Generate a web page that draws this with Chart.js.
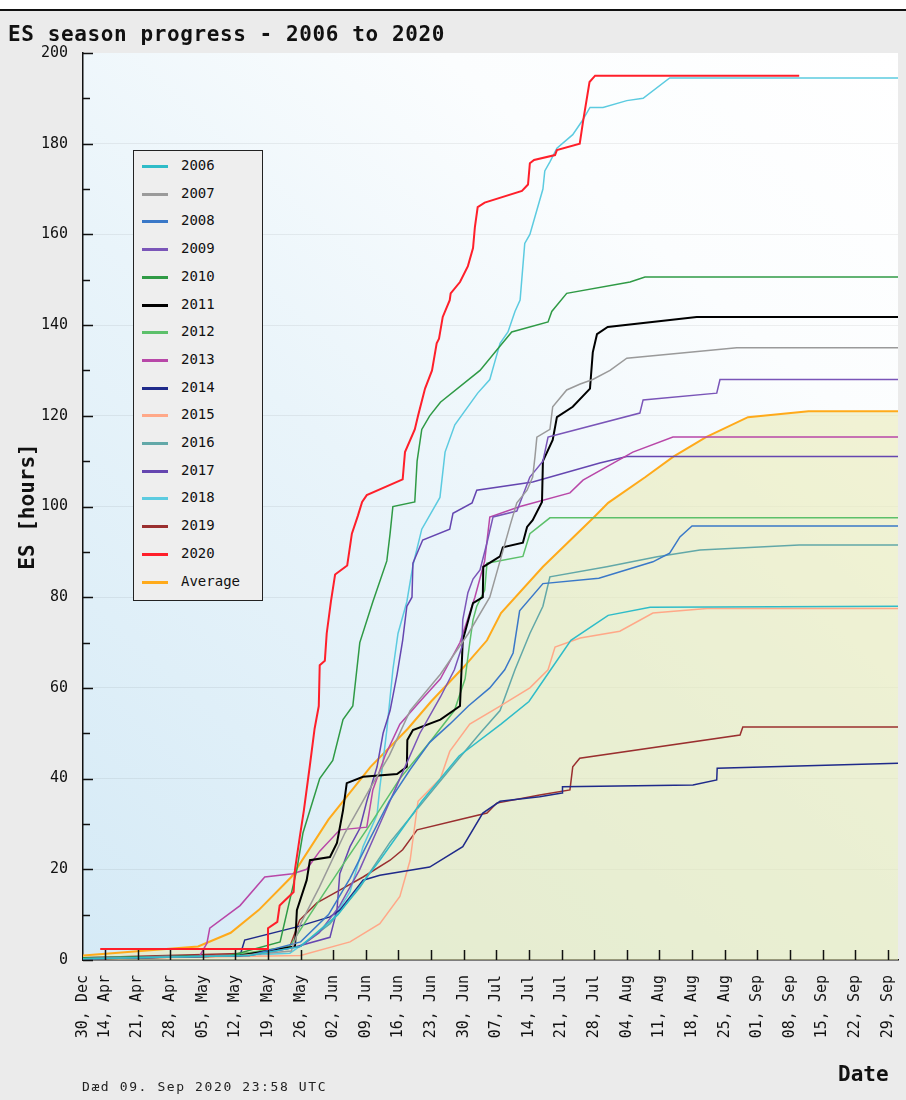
<!DOCTYPE html>
<html>
<head>
<meta charset="utf-8">
<script src="https://cdn.jsdelivr.net/npm/chart.js@4.4.0/dist/chart.umd.min.js"></script>
<style>
  html, body { margin: 0; padding: 0; background: #fff; }
  #wrap { position: relative; width: 906px; height: 1100px; background: #ebebeb; overflow: hidden; }
  #topband { position: absolute; left: 0; top: 0; width: 906px; height: 9px; background: #fff; border-bottom: 2px solid #111; }
  #chart { position: absolute; left: 0; top: 0; }
  #title { position: absolute; left: 8px; top: 24px; font: bold 21px "DejaVu Sans Mono", monospace; line-height: 1; color: #111; letter-spacing: 0.6px; }
  #xtitle { position: absolute; left: 838px; top: 1064px; font: bold 21px "DejaVu Sans Mono", monospace; line-height: 1; color: #111; }
  #stamp { position: absolute; left: 82px; top: 1080px; font: 13px "DejaVu Sans Mono", monospace; line-height: 1; color: #222; letter-spacing: 1.6px; }
  #legend { position: absolute; left: 133px; top: 150px; width: 130px; height: 451px; background: #eeeeee; border: 1.5px solid #222; box-sizing: border-box; }
  .item { position: absolute; left: 0; width: 126px; height: 20px; font: 14px "DejaVu Sans Mono", monospace; color: #111; }
  .item .sw { position: absolute; left: 8px; top: 8px; width: 26px; height: 3px; }
  .item .tx { position: absolute; left: 47px; top: 1px; line-height: 1; }
</style>
</head>
<body>
<div id="wrap">
  <div id="topband"></div>
  <canvas id="chart" width="906" height="1100"></canvas>
  <div id="title">ES season progress - 2006 to 2020</div>
  <div id="xtitle">Date</div>
  <div id="stamp">Dæd 09. Sep 2020 23:58 UTC</div>
  <div id="legend"></div>
</div>
<script>
// x = days since 14 Apr (first tick "30, Dec" sits at the axis start)
const tickDays = [-4.7, 0, 7, 14, 21, 28, 35, 42, 49, 56, 63, 70, 77, 84, 91, 98, 105, 112, 119, 126, 133, 140, 147, 154, 161, 168];
const tickLabels = ['30, Dec', '14, Apr', '21, Apr', '28, Apr', '05, May', '12, May', '19, May', '26, May',
  '02, Jun', '09, Jun', '16, Jun', '23, Jun', '30, Jun', '07, Jul', '14, Jul', '21, Jul', '28, Jul',
  '04, Aug', '11, Aug', '18, Aug', '25, Aug', '01, Sep', '08, Sep', '15, Sep', '22, Sep', '29, Sep'];
const yTicks = [0, 10, 20, 30, 40, 50, 60, 70, 80, 90, 100, 110, 120, 130, 140, 150, 160, 170, 180, 190, 200];

const seriesNames = ['2006', '2007', '2008', '2009', '2010', '2011', '2012', '2013', '2014', '2015', '2016', '2017', '2018', '2019', '2020', 'Average'];
const seriesColors = ['#2fbcc8', '#9a9a9a', '#3a78c8', '#7a55b8', '#2f9a45', '#000000', '#5cc06a', '#b847a8',
  '#1f2a8a', '#ffa888', '#62a8a8', '#6546b0', '#5ccbe0', '#9a2f2f', '#ff1f2a', '#ffaa1a'];

// [day, ES hours]
const es2006 = [[-4.7,0.3],[31,1],[42,3],[50,10],[59,22],[68,35],[76,45],[85,52],[91,57],[95,63],[100,70.5],[108,76],[117,77.8],[170.2,78]];
const es2007 = [[-4.7,0.3],[29,1],[40,2],[42,8],[46,16],[51.5,28],[57,38],[61,45],[65.5,55],[72,63],[78,72],[82.6,80],[84.8,88],[87,96],[88.4,100.8],[90.6,103.6],[91.8,106.5],[92.3,111],[92.7,115.3],[95.5,117],[96.1,122],[99.1,125.7],[102,127],[104.7,128],[108.4,130],[112,132.7],[135.6,135],[170.2,135]];
const es2008 = [[-4.7,0.3],[31,1],[42,4],[48,10],[52.6,18],[57,27],[61,35],[65.5,42],[69.7,48],[74,52],[78,56],[82.6,60],[85.8,64],[87.6,67.7],[89,77],[94,83],[106,84.2],[117.6,87.8],[121.2,89.7],[123.4,93.3],[126,95.7],[170.2,95.7]];
const es2009 = [[-4.7,0.3],[31,1],[42,3],[46,6],[50.4,12],[54.7,20],[59,30],[63.3,40],[67.6,50],[72,58],[75,64],[76.6,69],[76.8,75],[77.9,81],[79,84],[80.5,86],[82,92],[83.3,97.7],[88.4,99],[91.2,106.5],[94,110],[95.1,115.3],[97.6,116],[114.8,120.6],[115.5,123.5],[131.3,125],[132,128],[170.2,128]];
const es2010 = [[-4.7,0.5],[27,1],[37.6,4],[41.2,20],[42.5,28],[44.6,35],[46.1,40],[48.9,44],[51.1,53],[53.2,56],[54.7,70],[57.5,79],[60.5,88],[61.2,94],[61.8,100],[66.5,101],[67,110],[68,117],[69.7,120],[72,123],[80.5,130],[84.1,134.5],[87.3,138.5],[95.1,140.7],[95.9,143],[99.1,147],[112.7,149.5],[115.9,150.6],[170.2,150.6]];
const es2011 = [[-4.7,0.3],[29,1],[40.8,3],[41.2,11],[43.3,17.6],[44,22],[48.3,22.7],[49.8,25.8],[51.1,33],[51.9,39],[55.4,40.4],[62.7,41],[64.8,42.6],[64.9,48.5],[66.1,50.7],[72,53],[76.2,56],[76.8,70.5],[79,78.7],[81.1,80],[81.2,86.7],[84.8,89],[85.4,91],[89.7,92],[90.6,95.5],[91.8,97],[93.8,101],[94,110],[96.1,114.7],[97,119.7],[100.4,122],[104.1,126],[104.7,134],[105.6,138],[107.9,139.6],[127,141.8],[170.2,141.8]];
const es2012 = [[-4.7,0.3],[27,1],[39.7,3],[44,10],[50.4,20],[57,30],[63.3,40],[69.7,48],[75,55],[77.3,62],[78.3,70],[79,75],[79.8,78],[81.5,81.5],[82,87.5],[89.7,89],[91.2,94],[95.5,97.5],[170.2,97.5]];
const es2013 = [[-4.7,0.3],[20.4,1],[21.9,3.7],[22.5,7],[29,12],[34.3,18.3],[40.3,19],[43.3,20],[46.1,24],[50.4,28.7],[56.2,29.3],[57.5,37.5],[60.1,45],[63.3,52],[67.6,57],[72,62],[76.2,70],[79.4,80],[81.5,88],[82.6,97.7],[89.1,100],[99.8,103],[102.6,105.8],[113.3,112],[121.9,115.3],[170.2,115.3]];
const es2014 = [[-4.7,0.3],[29,1],[30,4.4],[41.2,7.3],[48.3,9.5],[50.4,11],[55.4,17.6],[59,18.7],[69.7,20.5],[76.8,25],[81.1,32.4],[84.8,35],[93.3,36],[98.1,36.8],[98.2,38.2],[126.2,38.6],[131.3,39.7],[131.4,42.3],[170.2,43.4]];
const es2015 = [[-4.7,0.2],[42,1],[52.6,4],[59,8],[63.3,14],[65.5,22],[67.2,35],[72,40],[74,46],[78.3,52],[84.8,56],[91.2,60],[95.1,64],[96.6,69],[102,71],[110.5,72.5],[117.6,76.5],[129.2,77.5],[170.2,77.5]];
const es2016 = [[-4.7,0.3],[31,1],[42,3],[48.3,8],[54.7,16],[61.2,26],[67.6,34],[74,42],[80.5,50],[84.8,55],[88,64],[91.2,72],[94,78],[95.5,84.5],[107.7,86.7],[118.5,88.9],[127.7,90.4],[149,91.5],[170.2,91.5]];
const es2017 = [[-4.7,0.3],[31,1],[41.2,3],[48.3,5],[49.8,11],[50.4,19],[52.6,25],[54.7,29],[56.2,35],[58.4,42.6],[59.7,50],[61.2,55],[62.7,63],[63.9,70.5],[64.8,78],[65.9,80],[66.1,87.5],[68.2,92.6],[74,95],[74.7,98.5],[78.8,100.8],[79.8,103.6],[91.8,105.4],[106.2,109.6],[112,111],[170.2,111]];
const es2018 = [[-4.7,0.5],[29,1],[39.7,1.5],[41.8,3],[48.3,8],[52.6,15],[55.4,25],[58.4,32],[59,38],[60.5,50.7],[61.8,64],[62.9,72],[64.8,79],[66.1,87],[68,95],[71.9,102],[73,112],[75.1,118],[80,125],[82.6,128],[83.7,132],[84.8,136],[86.5,138.5],[88,143],[89.1,145.5],[90.1,158],[91.2,160],[94,170],[94.4,174],[95.5,176],[97,179],[100.4,182],[102.4,185],[104.1,188],[106.9,188],[112,189.5],[115.5,190],[121.2,194.5],[170.2,194.5]];
const es2019 = [[-4.7,0.5],[31,1.5],[39.7,3],[41.8,8.8],[45.5,12.6],[50.4,15.4],[55.4,18.3],[61.2,22],[63.9,24.3],[67,28.7],[76.2,31],[82,32.4],[84.1,34.6],[93.3,36.4],[99.8,37.5],[100.4,42.6],[101.9,44.5],[136.3,49.6],[136.9,51.4],[170.2,51.4]];
const es2020 = [[-1,2.4],[34.8,2.4],[35,7],[37,8.4],[37.5,12],[40.5,15],[40.8,20],[41.8,27],[42.7,33],[44,43],[45,51],[45.9,56],[46.1,65],[47.2,66],[47.6,72],[48.5,79],[49.4,85],[52,87],[53,94],[54.3,98],[55.2,101],[56.2,102.5],[63.9,106],[64.4,112],[66.5,117],[67.2,120],[68.7,126],[70.2,130],[71.2,136],[71.7,137],[72.5,141.8],[74,145.5],[74.2,147],[76.2,149.5],[77.9,153],[79,157],[79.4,161.6],[80,166],[81.5,167],[89.5,169.6],[90.8,171],[91.2,175.7],[92.1,176.4],[96.6,177.5],[97,178.6],[101.9,180],[102.6,184.8],[104,193.6],[105.2,195],[149,195]];
const esAverage = [[-4.7,1],[20,3],[27,6],[33,11],[40,18.3],[48,31],[57,42.6],[65,51],[70,57],[77,64.6],[82,70.5],[85,76.5],[94,86.7],[105,97.7],[108,100.8],[116,106.5],[122,111],[129,115.3],[138,119.7],[151,121],[170.2,121]];

const seriesData = [es2006, es2007, es2008, es2009, es2010, es2011, es2012, es2013, es2014, es2015, es2016, es2017, es2018, es2019, es2020, esAverage];

const datasets = seriesNames.map((name, i) => ({
  label: name,
  data: seriesData[i].map(p => ({ x: p[0], y: p[1] })),
  borderColor: seriesColors[i],
  backgroundColor: name === 'Average' ? 'rgba(234,236,186,0.62)' : seriesColors[i],
  fill: name === 'Average' ? 'origin' : false,
  borderWidth: (name === '2020' || name === '2011' || name === 'Average') ? 2 : 1.5,
  pointRadius: 0,
  tension: 0,
  order: name === '2020' ? -1 : 0
}));

// legend box inside the plot
const legendEl = document.getElementById('legend');
seriesNames.forEach((name, i) => {
  const row = document.createElement('div');
  row.className = 'item';
  row.style.top = (6 + i * 27.7) + 'px';
  row.innerHTML = '<span class="sw" style="background:' + seriesColors[i] + '"></span><span class="tx">' + name + '</span>';
  legendEl.appendChild(row);
});

const plotBackground = {
  id: 'plotBackground',
  beforeDraw(chart) {
    const { ctx, chartArea: a } = chart;
    const g = ctx.createLinearGradient(a.left, a.bottom, a.right, a.top);
    g.addColorStop(0, '#d5eaf6');
    g.addColorStop(0.45, '#e9f4fa');
    g.addColorStop(0.75, '#fbfdfe');
    g.addColorStop(1, '#ffffff');
    ctx.save();
    ctx.fillStyle = g;
    ctx.fillRect(a.left, a.top, a.right - a.left, a.bottom - a.top);
    ctx.restore();
  }
};

// tick marks pointing into the plot
const innerTicks = {
  id: 'innerTicks',
  afterDraw(chart) {
    const { ctx, chartArea: a, scales } = chart;
    ctx.save();
    ctx.strokeStyle = '#111';
    ctx.lineWidth = 1.5;
    ctx.beginPath();
    yTicks.forEach(v => {
      const y = Math.round(scales.y.getPixelForValue(v)) + 0.5;
      ctx.moveTo(a.left, y);
      ctx.lineTo(a.left + (v % 20 === 0 ? 10 : 7), y);
    });
    tickDays.slice(1).forEach(d => {
      const x = Math.round(scales.x.getPixelForValue(d)) + 0.5;
      ctx.moveTo(x, a.bottom);
      ctx.lineTo(x, a.bottom - 10);
    });
    ctx.stroke();
    ctx.restore();
  }
};

new Chart(document.getElementById('chart'), {
  type: 'line',
  data: { datasets },
  options: {
    responsive: false,
    animation: false,
    layout: { padding: { left: 0, right: 0, top: 53, bottom: 0 } },
    plugins: {
      legend: { display: false },
      tooltip: { enabled: false },
      filler: { drawTime: 'beforeDatasetsDraw' }
    },
    scales: {
      x: {
        type: 'linear',
        min: -4.7,
        max: 170.2,
        afterBuildTicks: s => { s.ticks = tickDays.map(v => ({ value: v })); },
        afterFit: s => { s.height = 140; s.paddingRight = 8; },
        ticks: {
          autoSkip: false,
          maxRotation: 90,
          minRotation: 90,
          padding: 15,
          color: '#111',
          font: { family: '"DejaVu Sans Mono", monospace', size: 15 },
          callback: (v, i) => tickLabels[i]
        },
        grid: { display: false, drawTicks: false },
        border: { display: true, color: '#111', width: 1.5 }
      },
      y: {
        min: 0,
        max: 200,
        afterBuildTicks: s => { s.ticks = yTicks.map(v => ({ value: v })); },
        afterFit: s => { s.width = 83; },
        ticks: {
          padding: 15,
          color: '#111',
          font: { family: '"DejaVu Sans Mono", monospace', size: 15 },
          callback: v => (v % 20 === 0 ? v : '')
        },
        grid: {
          drawTicks: false,
          color: c => (c.tick && c.tick.value % 20 === 0 && c.tick.value > 0 && c.tick.value < 200) ? 'rgba(0,0,0,0.06)' : 'rgba(0,0,0,0)'
        },
        border: { display: true, color: '#111', width: 1.5 },
        title: {
          display: true, text: 'ES [hours]', color: '#111',
          font: { family: '"DejaVu Sans Mono", monospace', size: 21, weight: 'bold' },
          padding: { top: 16, bottom: 0 }
        }
      }
    }
  },
  plugins: [plotBackground, innerTicks]
});
</script>
</body>
</html>
